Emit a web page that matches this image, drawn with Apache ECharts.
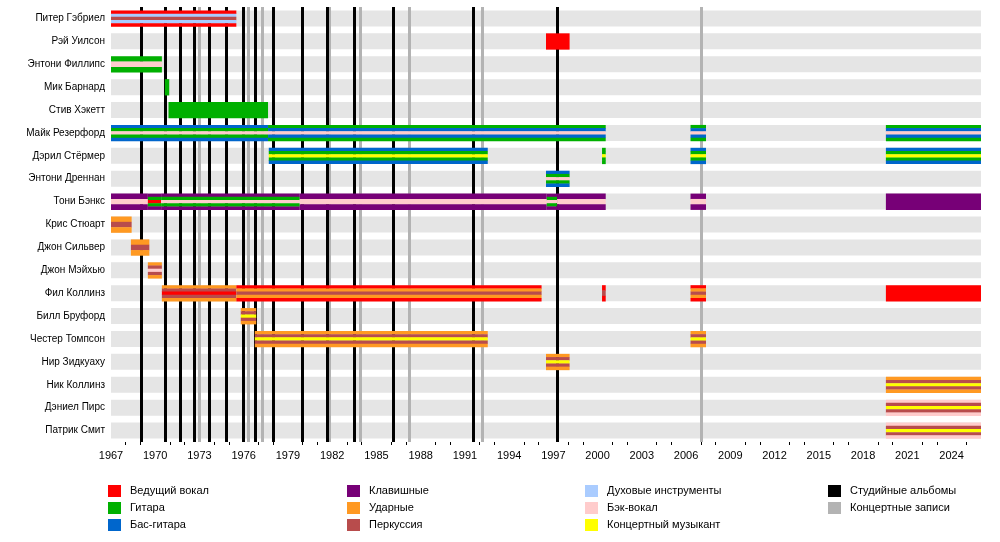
<!DOCTYPE html>
<html lang="ru">
<head>
<meta charset="UTF-8">
<title>Genesis</title>
<script src="https://cdn.jsdelivr.net/npm/echarts/dist/echarts.min.js"></script>
<style>html,body{margin:0;padding:0;background:#fff}</style>
</head>
<body>
<div id="chart" style="width:1000px;height:542px;"></div>
<script>
// участники (сверху вниз)
const members = ['Питер Гэбриел', 'Рэй Уилсон', 'Энтони Филлипс', 'Мик Барнард', 'Стив Хэкетт',
    'Майк Резерфорд', 'Дэрил Стёрмер', 'Энтони Дреннан', 'Тони Бэнкс', 'Крис Стюарт',
    'Джон Сильвер', 'Джон Мэйхью', 'Фил Коллинз', 'Билл Бруфорд', 'Честер Томпсон',
    'Нир Зидкуаху', 'Ник Коллинз', 'Дэниел Пирс', 'Патрик Смит'];

const roleColors = {
    vocal: '#ff0000', guitar: '#00b000', bass: '#0066cc', keys: '#770077', drums: '#ff9922',
    perc: '#b84c4c', wind: '#aaccff', bvox: '#ffcccc', touring: '#ffff00'
};

// отрезки: [участник, начало, конец, роли снаружи к центру]
const segments = [
    [0, 1967, 1975.5, ['vocal', 'wind', 'perc']],
    [1, 1996.5, 1998.1, ['vocal']],
    [2, 1967, 1970.45, ['guitar', 'bvox']],
    [3, 1970.65, 1970.95, ['guitar']],
    [4, 1970.9, 1977.65, ['guitar']],
    [5, 1967, 1977.65, ['bass', 'guitar', 'bvox']],
    [5, 1977.65, 2000.55, ['guitar', 'bass', 'bvox']],
    [5, 2006.3, 2007.35, ['guitar', 'bass', 'bvox']],
    [5, 2019.55, 2026, ['guitar', 'bass', 'bvox']],
    [6, 1977.7, 1992.55, ['bass', 'guitar', 'touring']],
    [6, 2000.3, 2000.55, ['guitar', 'guitar', 'touring']],
    [6, 2006.3, 2007.35, ['bass', 'guitar', 'touring']],
    [6, 2019.55, 2026, ['bass', 'guitar', 'touring']],
    [7, 1996.5, 1998.1, ['bass', 'guitar', 'bvox']],
    [8, 1967, 1969.5, ['keys', 'bvox']],
    [8, 1969.5, 1970.4, ['keys', 'guitar', 'vocal']],
    [8, 1970.4, 1979.8, ['keys', 'guitar', 'bvox']],
    [8, 1979.8, 1996.55, ['keys', 'bvox']],
    [8, 1996.55, 1997.25, ['keys', 'guitar', 'bvox']],
    [8, 1997.25, 2000.55, ['keys', 'bvox']],
    [8, 2006.3, 2007.35, ['keys', 'bvox']],
    [8, 2019.55, 2026, ['keys']],
    [9, 1967, 1968.4, ['drums', 'perc']],
    [10, 1968.35, 1969.6, ['drums', 'perc']],
    [11, 1969.5, 1970.45, ['drums', 'perc', 'bvox']],
    [12, 1970.45, 1975.5, ['drums', 'perc', 'vocal']],
    [12, 1975.5, 1996.2, ['vocal', 'drums', 'perc']],
    [12, 2000.3, 2000.55, ['vocal', 'perc']],
    [12, 2006.3, 2007.35, ['vocal', 'drums', 'perc']],
    [12, 2019.55, 2026, ['vocal']],
    [13, 1975.8, 1976.85, ['drums', 'perc', 'touring']],
    [14, 1976.75, 1992.55, ['drums', 'perc', 'touring']],
    [14, 2006.3, 2007.35, ['drums', 'perc', 'touring']],
    [15, 1996.5, 1998.1, ['drums', 'perc', 'touring']],
    [16, 2019.55, 2026, ['drums', 'perc', 'touring']],
    [17, 2019.55, 2026, ['bvox', 'perc', 'touring']],
    [18, 2019.55, 2026, ['bvox', 'perc', 'touring']]
];

const studioAlbums = [1969.03, 1970.66, 1971.68, 1972.63, 1973.64, 1974.8, 1975.95, 1976.76,
    1977.98, 1980.0, 1981.64, 1983.47, 1986.12, 1991.54, 1997.24];
const liveAlbums = [1972.97, 1976.29, 1977.24, 1981.78, 1983.88, 1987.2, 1992.15, 2007.0];

const legendItems = [
    ['Ведущий вокал', '#ff0000'], ['Гитара', '#00b000'], ['Бас-гитара', '#0066cc'],
    ['Клавишные', '#770077'], ['Ударные', '#ff9922'], ['Перкуссия', '#b84c4c'],
    ['Духовые инструменты', '#aaccff'], ['Бэк-вокал', '#ffcccc'], ['Концертный музыкант', '#ffff00'],
    ['Студийные альбомы', '#000000'], ['Концертные записи', '#b3b3b3']
];

const xMin = 1967, xMax = 2026;
const barH = 16;

function renderBand(params, api) {
    const p0 = api.coord([xMin, api.value(0)]);
    const p1 = api.coord([xMax, api.value(0)]);
    return { type: 'rect', shape: { x: p0[0], y: p0[1] - barH / 2, width: p1[0] - p0[0], height: barH },
        style: { fill: '#e5e5e5' } };
}

function renderSeg(params, api) {
    const seg = segments[params.dataIndex];
    const a = api.coord([seg[1], seg[0]]);
    const b = api.coord([seg[2], seg[0]]);
    const roles = seg[3];
    const stripes = roles.concat(roles.slice(0, -1).reverse());
    const h = barH / stripes.length;
    const top = a[1] - barH / 2;
    return {
        type: 'group',
        children: stripes.map((r, i) => ({
            type: 'rect',
            shape: { x: a[0], y: top + i * h, width: Math.max(b[0] - a[0], 1), height: h + 0.3 },
            style: { fill: roleColors[r] }
        }))
    };
}

const legendGraphics = [];
const colX = [108, 347, 585, 828];
const colRows = [[0, 1, 2], [3, 4, 5], [6, 7, 8], [9, 10]];
colRows.forEach((rows, c) => rows.forEach((idx, r) => {
    const y = 485 + r * 17;
    legendGraphics.push({ type: 'rect', left: colX[c], top: y, shape: { width: 13, height: 12 },
        style: { fill: legendItems[idx][1] } });
    legendGraphics.push({ type: 'text', left: colX[c] + 22, top: y, style: { text: legendItems[idx][0],
        fill: '#000', font: '11px "Liberation Sans", Arial, sans-serif' } });
}));

const chart = echarts.init(document.getElementById('chart'));
chart.setOption({
    animation: false,
    textStyle: { fontFamily: '"Liberation Sans", Arial, sans-serif' },
    grid: { left: 111, right: 19, top: 7, height: 435 },
    xAxis: {
        type: 'value', min: xMin, max: xMax, interval: 3,
        axisLine: { lineStyle: { color: '#000' } },
        axisTick: { lineStyle: { color: '#000' }, length: 5 },
        minorTick: { show: true, splitNumber: 3, length: 3, lineStyle: { color: '#000' } },
        splitLine: { show: false },
        axisLabel: { color: '#000', fontSize: 11, showMaxLabel: false, formatter: v => String(v) }
    },
    yAxis: {
        type: 'category', data: members, inverse: true,
        axisLine: { show: false }, axisTick: { show: false },
        axisLabel: { color: '#000', fontSize: 10, margin: 6 }
    },
    graphic: legendGraphics,
    series: [
        { type: 'custom', renderItem: renderBand, data: members.map((m, i) => [i]), z: 1, silent: true,
          markLine: {
              symbol: 'none', silent: true, label: { show: false }, animation: false,
              data: liveAlbums.map(v => ({ xAxis: v, lineStyle: { color: '#b3b3b3', width: 3, type: 'solid' } }))
                  .concat(studioAlbums.map(v => ({ xAxis: v, lineStyle: { color: '#000', width: 3, type: 'solid' } })))
          } },
        { type: 'custom', renderItem: renderSeg, data: segments.map(s => [s[1], s[0], s[2]]), z: 5, silent: true,
          encode: { x: [0, 2], y: 1 } }
    ]
});
</script>
</body>
</html>
